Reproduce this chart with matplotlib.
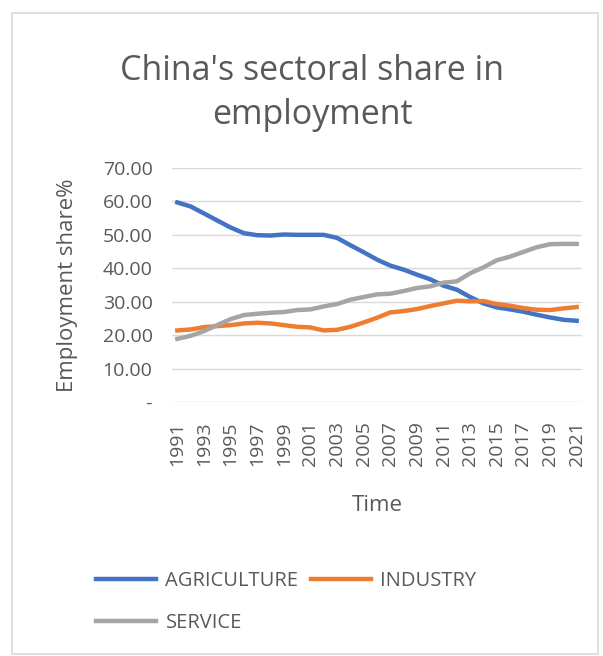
import matplotlib.pyplot as plt
from matplotlib.patches import Rectangle
from matplotlib.ticker import FuncFormatter
import numpy as np

plt.rcParams['font.family'] = ['Open Sans', 'DejaVu Sans']

years = list(range(1991, 2022))
agriculture = [59.7, 58.5, 56.4, 54.3, 52.2, 50.5, 49.9, 49.8, 50.1, 50.0,
               50.0, 50.0, 49.1, 46.9, 44.8, 42.6, 40.8, 39.6, 38.1, 36.7,
               34.8, 33.6, 31.4, 29.5, 28.3, 27.7, 27.0, 26.1, 25.3, 24.6, 24.3]
industry = [21.4, 21.7, 22.4, 22.7, 23.0, 23.5, 23.7, 23.5, 23.0, 22.5,
            22.3, 21.4, 21.6, 22.5, 23.8, 25.2, 26.8, 27.2, 27.8, 28.7,
            29.5, 30.3, 30.1, 30.2, 29.3, 28.8, 28.1, 27.6, 27.5, 28.0, 28.4]
service = [18.9, 19.8, 21.2, 23.0, 24.8, 26.0, 26.4, 26.7, 26.9, 27.5,
           27.7, 28.6, 29.3, 30.6, 31.4, 32.2, 32.4, 33.2, 34.1, 34.6,
           35.7, 36.1, 38.5, 40.3, 42.4, 43.5, 44.9, 46.3, 47.2, 47.3, 47.3]

W, H = 603, 656
fig = plt.figure(figsize=(W/100, H/100), dpi=100)
fig.add_artist(Rectangle((12/W, 1 - 654/H), 586/W, 641/H, transform=fig.transFigure,
                         fill=False, edgecolor='#d9d9d9', linewidth=1.2))

ax = fig.add_axes([172/W, 1 - 402/H, 410/W, 234/H])
txt = '#595959'

l1, = ax.plot(years, agriculture, color='#4472c4', lw=3.2, solid_joinstyle='round', label='AGRICULTURE')
l2, = ax.plot(years, industry, color='#ed7d31', lw=3.2, solid_joinstyle='round', label='INDUSTRY')
l3, = ax.plot(years, service, color='#a5a5a5', lw=3.2, solid_joinstyle='round', label='SERVICE')

ax.set_ylim(0, 70)
ax.set_xlim(1990.6, 2021.4)
ax.set_yticks(np.arange(0, 71, 10))
ax.yaxis.set_major_formatter(FuncFormatter(lambda v, p: ' -' if v == 0 else f'{v:.2f}'))
ax.set_xticks(years[::2])
ax.tick_params(axis='x', rotation=90, pad=14)
ax.tick_params(axis='y', pad=14)
ax.tick_params(length=0, labelsize=14, labelcolor=txt)
ax.grid(axis='y', color='#d9d9d9', lw=1)
ax.set_axisbelow(True)
for s in ax.spines.values():
    s.set_visible(False)

ax.set_xlabel('Time', fontsize=16, color=txt, labelpad=21)
ax.set_ylabel('Employment share%', fontsize=16, color=txt, labelpad=18)

fig.text(312/W, 1 - 93/H, "China's sectoral share in\nemployment", ha='center', va='center',
         fontsize=24.5, color=txt, linespacing=1.35)

fig.legend([l1, l3, l2], ['AGRICULTURE', 'SERVICE', 'INDUSTRY'], ncol=2,
           loc='upper left', bbox_to_anchor=(96/W, 1 - 571/H), frameon=False,
           borderaxespad=0, borderpad=0,
           fontsize=14.5, labelcolor=txt, handlelength=3.0, handletextpad=0.45,
           columnspacing=0.6, labelspacing=1.1)

fig.savefig('out.png', dpi=100)
